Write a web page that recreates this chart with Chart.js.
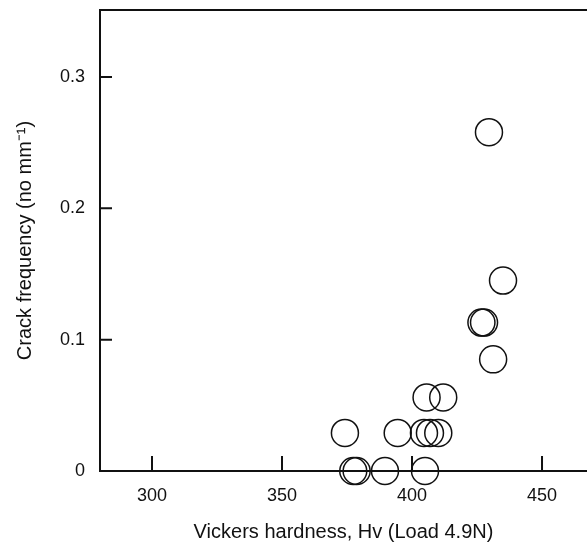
<!DOCTYPE html>
<html>
<head>
<meta charset="utf-8">
<script src="https://cdn.jsdelivr.net/npm/chart.js@4.4.1/dist/chart.umd.min.js"></script>
<style>
  html, body { margin: 0; padding: 0; background: #ffffff; overflow: hidden; }
  #wrap { width: 587px; height: 545px; position: relative; }
</style>
</head>
<body>
<div id="wrap"><canvas id="crackChart"></canvas></div>
<script>
/* ── Data ── */
const hardness  = [429.6, 435.0, 426.7, 427.7, 431.2, 405.6, 412.0, 374.2, 394.5, 404.6, 406.9, 410.1, 377.4, 378.7, 389.6, 405.0];
const crackFreq = [0.258, 0.145, 0.113, 0.113, 0.085, 0.056, 0.056, 0.029, 0.029, 0.029, 0.029, 0.029, 0, 0, 0, 0];

const xTicks = [300, 350, 400, 450];
const yTicks = [0, 0.1, 0.2, 0.3];
const yTickLabels = ['0', '0.1', '0.2', '0.3'];

const xTitle = 'Vickers hardness, Hv (Load 4.9N)';
const yTitle = 'Crack frequency (no mm\u207B\u00B9)';

const INK  = '#111111';
const FONT = "'Liberation Sans', Arial, sans-serif";

/* ── Pin the axis boxes so the plot area sits where the figure has it ── */
const NO_PAD = () => ({ left: 0, top: 0, right: 0, bottom: 0 });
function pinBox(s, size) {
  if (s.isHorizontal()) s.height = size; else s.width = size;
  s.paddingLeft = s.paddingRight = s.paddingTop = s.paddingBottom = 0;
  s.getPadding = NO_PAD;
}

/* ── Frame: top line + inward tick marks ── */
const framePlugin = {
  id: 'frame',
  afterDatasetsDraw(chart) {
    const { ctx, chartArea: a, scales: { x, y } } = chart;
    ctx.save();
    ctx.strokeStyle = INK;
    ctx.lineWidth = 2;
    ctx.beginPath();
    ctx.moveTo(a.left, a.top);
    ctx.lineTo(a.right, a.top);
    xTicks.forEach(v => {
      const px = x.getPixelForValue(v);
      ctx.moveTo(px, a.bottom);
      ctx.lineTo(px, a.bottom - 15);
    });
    yTicks.forEach(v => {
      if (v === 0) return;
      const py = y.getPixelForValue(v);
      ctx.moveTo(a.left, py);
      ctx.lineTo(a.left + 12, py);
    });
    ctx.stroke();
    ctx.restore();
  }
};

/* ── Chart ── */
const points = hardness.map((h, i) => ({ x: h, y: crackFreq[i] }));

new Chart(document.getElementById('crackChart'), {
  type: 'scatter',
  data: {
    datasets: [{
      data: points,
      pointStyle: 'circle',
      pointRadius: 13.5,
      pointHoverRadius: 13.5,
      borderColor: INK,
      borderWidth: 1.5,
      backgroundColor: 'rgba(0,0,0,0)',
      clip: false
    }]
  },
  options: {
    responsive: true,
    maintainAspectRatio: false,
    animation: false,
    events: [],
    layout: { autoPadding: false, padding: { top: 10, right: 0, bottom: 0, left: 0 } },
    plugins: { legend: { display: false }, tooltip: { enabled: false } },
    scales: {
      x: {
        type: 'linear',
        min: 280,
        max: 467.3,
        afterFit: s => pinBox(s, 74),
        afterBuildTicks: s => { s.ticks = xTicks.map(v => ({ value: v })); },
        grid: { display: false, drawTicks: false, tickLength: 0 },
        border: { display: true, color: INK, width: 2 },
        ticks: { color: INK, padding: 14, maxRotation: 0, font: { family: FONT, size: 18 } },
        title: { display: true, text: xTitle, color: INK, padding: { top: 0, bottom: 1 }, font: { family: FONT, size: 20 } }
      },
      y: {
        type: 'linear',
        min: 0,
        max: 0.351,
        afterFit: s => pinBox(s, 100),
        afterBuildTicks: s => { s.ticks = yTicks.map(v => ({ value: v })); },
        grid: { display: false, drawTicks: false, tickLength: 0 },
        border: { display: true, color: INK, width: 2 },
        ticks: {
          color: INK,
          padding: 15,
          font: { family: FONT, size: 18 },
          callback: v => yTickLabels[yTicks.indexOf(v)] ?? ''
        },
        title: { display: true, text: yTitle, color: INK, padding: { top: 13, bottom: 0 }, font: { family: FONT, size: 20 } }
      }
    }
  },
  plugins: [framePlugin]
});
</script>
</body>
</html>
